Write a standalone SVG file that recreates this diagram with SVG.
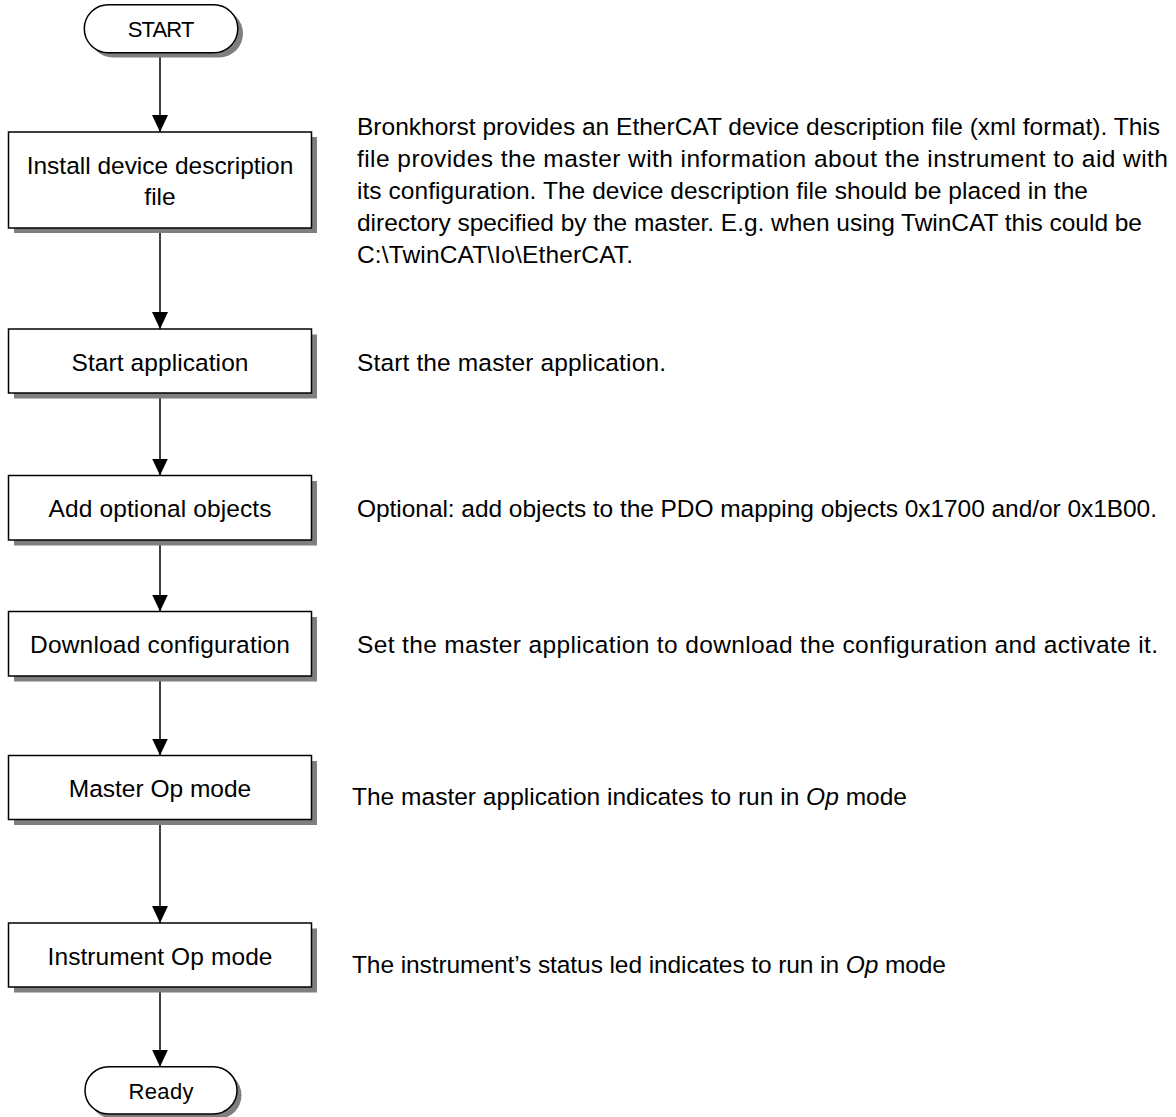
<svg xmlns="http://www.w3.org/2000/svg" width="1176" height="1117" viewBox="0 0 1176 1117">
<style>
  text { font-family: "Liberation Sans", Arial, sans-serif; fill: #000; }
  .box { fill: #fff; stroke: #000; stroke-width: 1.5; }
  .shadow { fill: #7f7f7f; stroke: none; }
  .lbl { font-size: 24.5px; text-anchor: middle; }
  .pill { font-size: 22px; text-anchor: middle; }
  .desc { font-size: 24.5px; }
  .conn { stroke: #000; stroke-width: 1.5; fill: none; marker-end: url(#arrow); }
</style>
<defs>
  <marker id="arrow" markerUnits="userSpaceOnUse" viewBox="0 0 17 16" markerWidth="17" markerHeight="16" refX="17" refY="8" orient="auto">
    <path d="M0,0 L17,8 L0,16 z" fill="#000"/>
  </marker>
</defs>
<rect width="1176" height="1117" fill="#fff"/>

<g id="connectors">
  <line class="conn" x1="160" y1="52.7" x2="160" y2="132"/>
  <line class="conn" x1="160" y1="228" x2="160" y2="329"/>
  <line class="conn" x1="160" y1="393" x2="160" y2="475.5"/>
  <line class="conn" x1="160" y1="540" x2="160" y2="611.5"/>
  <line class="conn" x1="160" y1="676" x2="160" y2="755.5"/>
  <line class="conn" x1="160" y1="819.5" x2="160" y2="923"/>
  <line class="conn" x1="160" y1="987" x2="160" y2="1066.7"/>
</g>

<g id="start">
  <rect class="shadow" x="89" y="9.5" width="154" height="48" rx="24"/>
  <rect class="box" x="84.3" y="4.7" width="153.5" height="48" rx="24"/>
  <text class="pill" x="161" y="37.3" textLength="66.7">START</text>
</g>

<g id="install">
  <rect class="shadow" x="14" y="137" width="303" height="96"/>
  <rect class="box" x="8.5" y="132" width="303" height="96"/>
  <text class="lbl" x="160" y="174" textLength="266.6">Install device description</text>
  <text class="lbl" x="160" y="205">file</text>
</g>

<g id="startapp">
  <rect class="shadow" x="14" y="334.5" width="303" height="64"/>
  <rect class="box" x="8.5" y="329" width="303" height="64"/>
  <text class="lbl" x="160" y="370.5" textLength="177">Start application</text>
</g>

<g id="addopt">
  <rect class="shadow" x="14" y="481" width="303" height="64.5"/>
  <rect class="box" x="8.5" y="475.5" width="303" height="64.5"/>
  <text class="lbl" x="160" y="517" textLength="223">Add optional objects</text>
</g>

<g id="download">
  <rect class="shadow" x="14" y="617" width="303" height="64.5"/>
  <rect class="box" x="8.5" y="611.5" width="303" height="64.5"/>
  <text class="lbl" x="160" y="653" textLength="260">Download configuration</text>
</g>

<g id="masterop">
  <rect class="shadow" x="14" y="761" width="303" height="64"/>
  <rect class="box" x="8.5" y="755.5" width="303" height="64"/>
  <text class="lbl" x="160" y="797" textLength="182.4">Master Op mode</text>
</g>

<g id="instrop">
  <rect class="shadow" x="14" y="928.5" width="303" height="64"/>
  <rect class="box" x="8.5" y="923" width="303" height="64"/>
  <text class="lbl" x="160" y="964.5" textLength="225">Instrument Op mode</text>
</g>

<g id="ready">
  <rect class="shadow" x="89.5" y="1071.5" width="152" height="47.3" rx="23.6"/>
  <rect class="box" x="85" y="1066.7" width="152" height="47.3" rx="23.6"/>
  <text class="pill" x="161" y="1099" textLength="65">Ready</text>
</g>

<g id="descriptions">
  <text class="desc" x="357" y="135" textLength="803">Bronkhorst provides an EtherCAT device description file (xml format). This</text>
  <text class="desc" x="357" y="167" textLength="811">file provides the master with information about the instrument to aid with</text>
  <text class="desc" x="357" y="199" textLength="731">its configuration. The device description file should be placed in the</text>
  <text class="desc" x="357" y="231" textLength="785">directory specified by the master. E.g. when using TwinCAT this could be</text>
  <text class="desc" x="357" y="263" textLength="276">C:\TwinCAT\Io\EtherCAT.</text>
  <text class="desc" x="357" y="371" textLength="309">Start the master application.</text>
  <text class="desc" x="357" y="517" textLength="800">Optional: add objects to the PDO mapping objects 0x1700 and/or 0x1B00.</text>
  <text class="desc" x="357" y="653" textLength="801">Set the master application to download the configuration and activate it.</text>
  <text class="desc" x="352" y="805" textLength="555">The master application indicates to run in <tspan font-style="italic">Op</tspan> mode</text>
  <text class="desc" x="352" y="973" textLength="594">The instrument’s status led indicates to run in <tspan font-style="italic">Op</tspan> mode</text>
</g>
</svg>
